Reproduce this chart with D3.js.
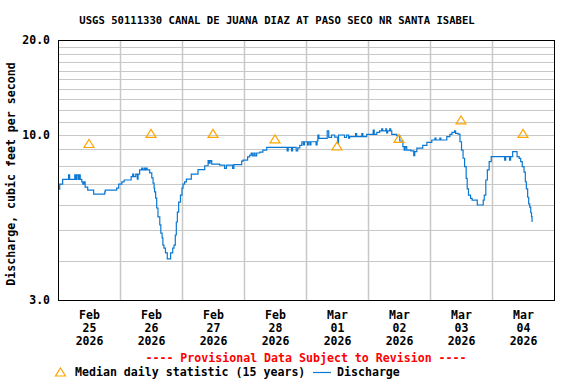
<!DOCTYPE html>
<html>
<head>
<meta charset="utf-8">
<script src="https://cdn.jsdelivr.net/npm/d3@7"></script>
<style>
  body { margin: 0; background: #fff; }
  text { font-family: "DejaVu Sans Mono", monospace; font-weight: bold; }
</style>
</head>
<body>
<div id="chart"></div>
<script>
// Data (hours after Feb 25 2026 00:00, discharge in ft3/s)
var hours = [0, 0.66, 1.8, 4.1, 4.5, 6.5, 6.9, 7.2, 7.8, 8.2, 8.6, 9.2, 9.6, 10.1, 10.5, 11.5, 13.8, 18.1, 18.3, 22.7,
  23.5, 24.7, 25.6, 28.3, 28.9, 29.3, 30.1, 30.7, 31.0, 31.6, 32.4, 32.8, 33.4, 33.8, 34.1, 34.5, 35.5, 36.3, 36.8, 37.2,
  37.4, 37.8, 38.2, 38.7, 39.4, 39.8, 40.3, 40.6, 41.0, 41.6, 42.3, 43.6, 44.4, 44.9, 45.4, 45.8, 46.2, 46.7, 47.4, 48.0,
  48.4, 49.0, 49.7, 51.6, 54.2, 56.8, 58.1, 58.5, 58.9, 59.5, 62.6, 64.5, 65.2, 67.6, 68.1, 71.1, 71.6, 73.4, 74.2, 74.8,
  75.2, 75.8, 76.3, 76.9, 78.1, 79.3, 80.8, 88.7, 89.1, 90.4, 90.8, 92.2, 92.8, 93.6, 94.4, 95.0, 95.4, 96.6, 96.9, 97.5,
  97.9, 99.9, 100.3, 100.6, 101.0, 104.2, 104.8, 105.9, 107.1, 108.3, 108.6, 110.9, 111.7, 112.5, 112.9, 115.2, 115.6, 117.6, 118.0, 119.5,
  122.0, 122.4, 123.4, 124.5, 125.3, 125.7, 126.9, 127.2, 127.6, 128.4, 128.8, 129.2, 131.1, 132.3, 133.5, 134.0, 134.4, 135.0, 136.6, 137.7,
  138.1, 138.9, 141.2, 142.8, 144.7, 145.9, 146.3, 147.8, 148.2, 150.5, 151.7, 152.5, 153.5, 153.9, 154.9, 155.6, 156.2, 156.8, 157.4, 158.0,
  158.4, 158.9, 159.7, 160.3, 162.3, 164.6, 165.0, 165.6, 166.2, 166.9, 167.7, 172.9, 173.3, 174.8, 175.2, 176.0, 177.7, 178.5, 179.1, 179.7,
  180.4, 180.9, 181.3, 181.8, 182.2, 182.6, 183.0, 183.3, 183.5];
var discharge = [6.74, 6.99, 7.23, 7.47, 7.23, 7.47, 7.23, 7.47, 7.23, 7.47, 7.23, 7.10, 6.99, 7.10, 6.84, 6.69, 6.50, 6.60, 6.69, 6.79,
  6.99, 7.10, 7.20, 7.38, 7.52, 7.38, 7.52, 7.25, 7.52, 7.75, 7.86, 7.75, 7.86, 7.75, 7.86, 7.75, 7.58, 7.31, 7.04, 6.79,
  6.60, 6.31, 5.87, 5.50, 5.19, 4.89, 4.72, 4.48, 4.38, 4.23, 4.05, 4.23, 4.38, 4.48, 4.82, 5.30, 5.70, 6.13, 6.45, 6.79,
  6.99, 7.10, 7.25, 7.52, 7.77, 7.99, 8.29, 8.15, 8.29, 8.09, 8.03, 7.84, 8.03, 7.84, 8.06, 8.27, 8.33, 8.52, 8.64, 8.77,
  8.58, 8.77, 8.58, 8.77, 8.83, 8.96, 9.13, 8.90, 9.13, 8.90, 9.13, 8.90, 9.10, 9.27, 9.52, 9.30, 9.52, 9.30, 9.52, 9.30,
  9.52, 9.30, 9.57, 10.00, 9.76, 10.30, 9.83, 10.00, 9.85, 9.43, 10.00, 9.82, 10.00, 9.78, 9.88, 10.11, 9.88, 10.11, 9.88, 10.05,
  10.37, 10.05, 10.20, 10.30, 10.45, 10.30, 10.45, 10.15, 10.30, 10.45, 10.30, 10.05, 9.95, 9.57, 9.19, 8.96, 9.19, 8.96, 8.90, 8.60,
  8.86, 9.08, 9.27, 9.47, 9.64, 9.78, 9.64, 9.78, 9.64, 9.88, 10.05, 10.20, 10.30, 10.12, 10.07, 9.52, 8.96, 8.44, 7.94, 7.29,
  6.75, 6.45, 6.30, 6.22, 6.00, 6.22, 6.45, 7.20, 7.75, 8.23, 8.54, 8.33, 8.54, 8.33, 8.54, 8.86, 8.54, 8.43, 8.23, 7.94,
  7.63, 7.11, 6.75, 6.35, 6.05, 5.91, 5.67, 5.51, 5.30];

// median daily statistic (15 years), one per day, plotted at noon
var medianDays = [0, 1, 2, 3, 4, 5, 6, 7];
var medianValues = [9.40, 10.12, 10.12, 9.72, 9.23, 9.75, 11.16, 10.12];

var dayLabels = [["Feb", "25", "2026"], ["Feb", "26", "2026"], ["Feb", "27", "2026"], ["Feb", "28", "2026"],
  ["Mar", "01", "2026"], ["Mar", "02", "2026"], ["Mar", "03", "2026"], ["Mar", "04", "2026"]];
var yTicks = [3, 10, 20];
var yGrid = [4, 5, 6, 7, 8, 9, 10, 11, 12, 13, 14, 15, 16, 17, 18, 19];

var svgWidth = 576;
var svgHeight = 384;
var margin = {top: 40, right: 22, bottom: 84, left: 58};
var width = svgWidth - margin.left - margin.right;
var height = svgHeight - margin.top - margin.bottom;

var svg = d3.select("#chart")
  .append("svg")
  .attr("width", svgWidth)
  .attr("height", svgHeight);

var chartGroup = svg.append("g")
  .attr("transform", `translate(${margin.left}, ${margin.top})`);

var start = new Date(2026, 1, 25, 0, 0);
function atHour(h) { return new Date(start.getTime() + h * 3600 * 1000); }

var series = hours.map((h, i) => ({date: atHour(h), value: discharge[i]}));
var medians = medianDays.map((d, i) => ({date: atHour(d * 24 + 12), value: medianValues[i]}));

var xTimeScale = d3.scaleTime()
  .domain([start, atHour(8 * 24)])
  .range([0, width]);

var yLogScale = d3.scaleLog()
  .domain([3, 20])
  .range([height, 0]);

// grid lines
chartGroup.append("g")
  .selectAll("line")
  .data(yGrid)
  .enter()
  .append("line")
  .attr("x1", 0)
  .attr("x2", width)
  .attr("y1", d => Math.round(yLogScale(d)) + 0.5)
  .attr("y2", d => Math.round(yLogScale(d)) + 0.5)
  .attr("stroke", "#c8c8c8")
  .attr("stroke-width", 1);

chartGroup.append("g")
  .selectAll("line")
  .data(d3.range(1, 8))
  .enter()
  .append("line")
  .attr("x1", d => Math.round(xTimeScale(atHour(d * 24))) + 0.5)
  .attr("x2", d => Math.round(xTimeScale(atHour(d * 24))) + 0.5)
  .attr("y1", 0)
  .attr("y2", height)
  .attr("stroke", "#c8c8c8")
  .attr("stroke-width", 1.5);

// discharge line
var line = d3.line()
  .curve(d3.curveStepAfter)
  .x(d => xTimeScale(d.date))
  .y(d => yLogScale(d.value));

chartGroup.append("path")
  .datum(series)
  .attr("d", line)
  .attr("fill", "none")
  .attr("stroke", "#0a78d2")
  .attr("stroke-width", 1.2);

// median triangles
var triangle = "M0,-4L5,4L-5,4Z";
chartGroup.selectAll(".median")
  .data(medians)
  .enter()
  .append("path")
  .attr("class", "median")
  .attr("d", triangle)
  .attr("transform", d => `translate(${xTimeScale(d.date)}, ${yLogScale(d.value)})`)
  .attr("fill", "none")
  .attr("stroke", "#ffa500")
  .attr("stroke-width", 1.2);

// frame
chartGroup.append("rect")
  .attr("x", 0.5)
  .attr("y", 0.5)
  .attr("width", width)
  .attr("height", height)
  .attr("fill", "none")
  .attr("stroke", "#000")
  .attr("stroke-width", 1);

// axes
var leftAxis = d3.axisLeft(yLogScale)
  .tickValues(yTicks)
  .tickFormat(d3.format(".1f"))
  .tickSize(0)
  .tickPadding(8);

var yAxisGroup = chartGroup.append("g")
  .attr("font-family", null)
  .attr("font-size", null)
  .call(leftAxis);
yAxisGroup.select(".domain").remove();
yAxisGroup.selectAll("text")
  .attr("font-size", "11.5px")
  .attr("font-family", "DejaVu Sans Mono")
  .attr("fill", "#000");

var bottomAxis = d3.axisBottom(xTimeScale)
  .tickValues(medians.map(d => d.date))
  .tickSize(0)
  .tickFormat("");

var xAxisGroup = chartGroup.append("g")
  .attr("transform", `translate(0, ${height})`)
  .call(bottomAxis);
xAxisGroup.select(".domain").remove();
xAxisGroup.selectAll(".tick text")
  .each(function(d, i) {
    var t = d3.select(this).attr("dy", null).attr("y", null)
      .attr("font-size", "11.5px")
      .attr("font-family", "DejaVu Sans Mono")
      .attr("fill", "#000");
    dayLabels[i].forEach(function(s, j) {
      t.append("tspan").attr("x", 0).attr("y", 18.5 + j * 13).text(s);
    });
  });

// title and labels
svg.append("text")
  .attr("x", 277)
  .attr("y", 24)
  .attr("text-anchor", "middle")
  .attr("font-size", "10.6px")
  .text("USGS 50111330 CANAL DE JUANA DIAZ AT PASO SECO NR SANTA ISABEL");

svg.append("text")
  .attr("transform", "translate(15, 174) rotate(-90)")
  .attr("text-anchor", "middle")
  .attr("font-size", "11.6px")
  .text("Discharge, cubic feet per second");

svg.append("text")
  .attr("x", margin.left + width / 2)
  .attr("y", 362)
  .attr("text-anchor", "middle")
  .attr("font-size", "11.6px")
  .attr("fill", "#ff0000")
  .text("---- Provisional Data Subject to Revision ----");

// legend
svg.append("path")
  .attr("d", triangle)
  .attr("transform", "translate(60.5, 372)")
  .attr("fill", "none")
  .attr("stroke", "#ffa500")
  .attr("stroke-width", 1.2);
svg.append("text")
  .attr("x", 75)
  .attr("y", 376)
  .attr("font-size", "11.6px")
  .text("Median daily statistic (15 years)");
svg.append("line")
  .attr("x1", 313)
  .attr("x2", 331)
  .attr("y1", 372.5)
  .attr("y2", 372.5)
  .attr("stroke", "#0a78d2")
  .attr("stroke-width", 1.2);
svg.append("text")
  .attr("x", 337)
  .attr("y", 376)
  .attr("font-size", "11.6px")
  .text("Discharge");
</script>
</body>
</html>
